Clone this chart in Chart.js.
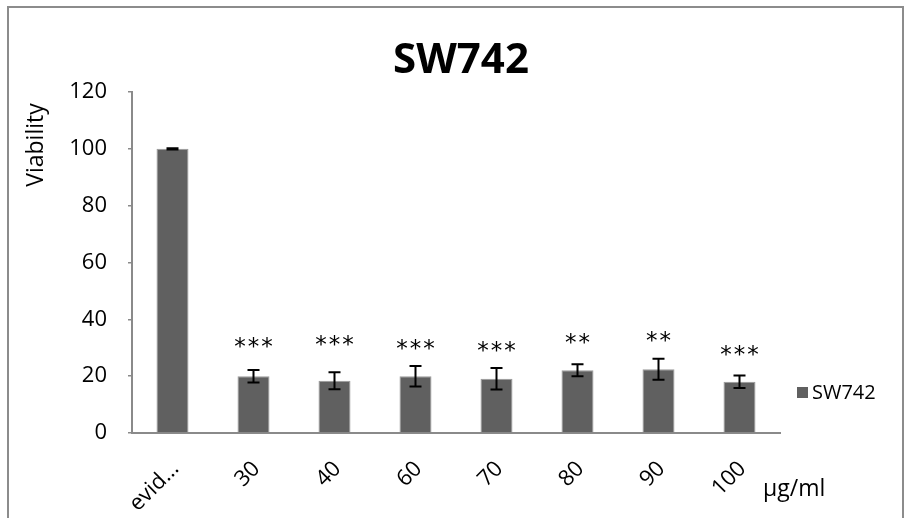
<!DOCTYPE html>
<html><head><meta charset="utf-8">
<script src="https://cdn.jsdelivr.net/npm/chart.js@4.4.1/dist/chart.umd.min.js"></script>
<style>html,body{margin:0;padding:0;background:#fff}#wrap{width:904px;height:518px;position:relative}</style>
</head><body><div id="wrap"><canvas id="c"></canvas></div>
<script>
const categories = ['evid...', '30', '40', '60', '70', '80', '90', '100'];
const viability = [100, 20, 18.4, 20, 19.1, 22.1, 22.4, 18];
const errors = [0.2, 2.2, 3, 3.6, 3.8, 2.1, 3.7, 2.2];
const significance = ['', '***', '***', '***', '***', '**', '**', '***'];
const significanceHeight = [null, 31.7, 32.4, 31.3, 30.3, 33.4, 33.8, 29.0];
const yMin = 0, yMax = 120, yStep = 20;
const seriesName = 'SW742';
const chartTitle = 'SW742';
const yTitle = 'Viability';
const unitLabel = 'μg/ml';

const BAR = '#606060';
const AXIS = '#8a8a8a';

const decor = {
  id: 'decor',
  beforeDraw(chart) {
    const ctx = chart.ctx;
    ctx.save();
    ctx.fillStyle = '#fff';
    ctx.fillRect(0, 0, chart.width, chart.height);
    ctx.strokeStyle = '#8c8c8c';
    ctx.lineWidth = 2;
    ctx.strokeRect(8, 7, 895, 600);
    ctx.restore();
  },
  afterDatasetsDraw(chart) {
    const ctx = chart.ctx;
    const meta = chart.getDatasetMeta(0);
    const ys = chart.scales.y;
    ctx.save();
    ctx.strokeStyle = '#000';
    ctx.lineWidth = 2;
    meta.data.forEach((bar, i) => {
      const x = bar.x;
      const t = ys.getPixelForValue(viability[i] + errors[i]);
      const b = ys.getPixelForValue(viability[i] - errors[i]);
      ctx.beginPath();
      ctx.moveTo(x, t); ctx.lineTo(x, b);
      ctx.moveTo(x - 6, t); ctx.lineTo(x + 6, t);
      ctx.moveTo(x - 6, b); ctx.lineTo(x + 6, b);
      ctx.stroke();
    });
    // significance stars
    ctx.fillStyle = '#000';
    ctx.font = '23px "DejaVu Sans"';
    ctx.textAlign = 'center';
    ctx.textBaseline = 'alphabetic';
    const m = ctx.measureText('*');
    const mid = (m.actualBoundingBoxAscent - m.actualBoundingBoxDescent) / 2;
    meta.data.forEach((bar, i) => {
      const s = significance[i];
      if (!s) return;
      const cy = ys.getPixelForValue(significanceHeight[i]);
      const n = s.length, pitch = 13.5;
      for (let k = 0; k < n; k++) {
        const cx = bar.x + (k - (n - 1) / 2) * pitch;
        ctx.fillText('*', cx, cy + mid);
      }
    });
    ctx.restore();
  },
  afterDraw(chart) {
    const ctx = chart.ctx;
    ctx.save();
    ctx.fillStyle = '#000';
    // title
    ctx.font = 'bold 42px "Open Sans"';
    ctx.textAlign = 'center';
    ctx.textBaseline = 'alphabetic';
    ctx.fillText(chartTitle, 461, 73);
    // y axis title
    ctx.save();
    ctx.font = '23px "Open Sans"';
    ctx.translate(43, 145);
    ctx.rotate(-Math.PI / 2);
    ctx.textAlign = 'center';
    ctx.fillText(yTitle, 0, 0);
    ctx.restore();
    // unit label
    ctx.font = '23px "Open Sans"';
    ctx.textAlign = 'left';
    ctx.fillText(unitLabel, 763, 496);
    // legend
    const ds = chart.data.datasets[0];
    ctx.fillStyle = ds.backgroundColor;
    ctx.fillRect(797, 387, 11, 11);
    ctx.fillStyle = '#000';
    ctx.font = '20px "Open Sans"';
    ctx.textBaseline = 'middle';
    ctx.fillText(ds.label, 812, 393);
    ctx.restore();
  }
};

new Chart(document.getElementById('c'), {
  type: 'bar',
  data: {
    labels: categories,
    datasets: [{
      label: seriesName,
      data: viability,
      backgroundColor: BAR,
      borderColor: '#9a9a9a',
      borderWidth: 1,
      categoryPercentage: 1,
      barPercentage: 0.395
    }]
  },
  options: {
    responsive: true,
    maintainAspectRatio: false,
    devicePixelRatio: 1,
    animation: false,
    layout: { padding: { top: 92, right: 124, bottom: 0, left: 0 } },
    plugins: { legend: { display: false }, title: { display: false }, tooltip: { enabled: false } },
    scales: {
      x: {
        grid: { display: false },
        border: { display: true, color: AXIS, width: 2 },
        ticks: {
          color: '#000', font: { family: 'Open Sans', size: 22 },
          minRotation: 45, maxRotation: 45, autoSkip: false,
          padding: 15, labelOffset: 3
        },
        afterFit(s) { s.height = 85; }
      },
      y: {
        min: yMin, max: yMax,
        grid: { display: true, drawOnChartArea: false, drawTicks: true, tickLength: 4, color: AXIS, lineWidth: 1.5 },
        border: { display: true, color: AXIS, width: 2 },
        ticks: { stepSize: yStep, color: '#000', font: { family: 'Open Sans', size: 22 }, padding: 21 },
        afterFit(s) { s.width = 132; }
      }
    }
  },
  plugins: [decor]
});
</script></body></html>
